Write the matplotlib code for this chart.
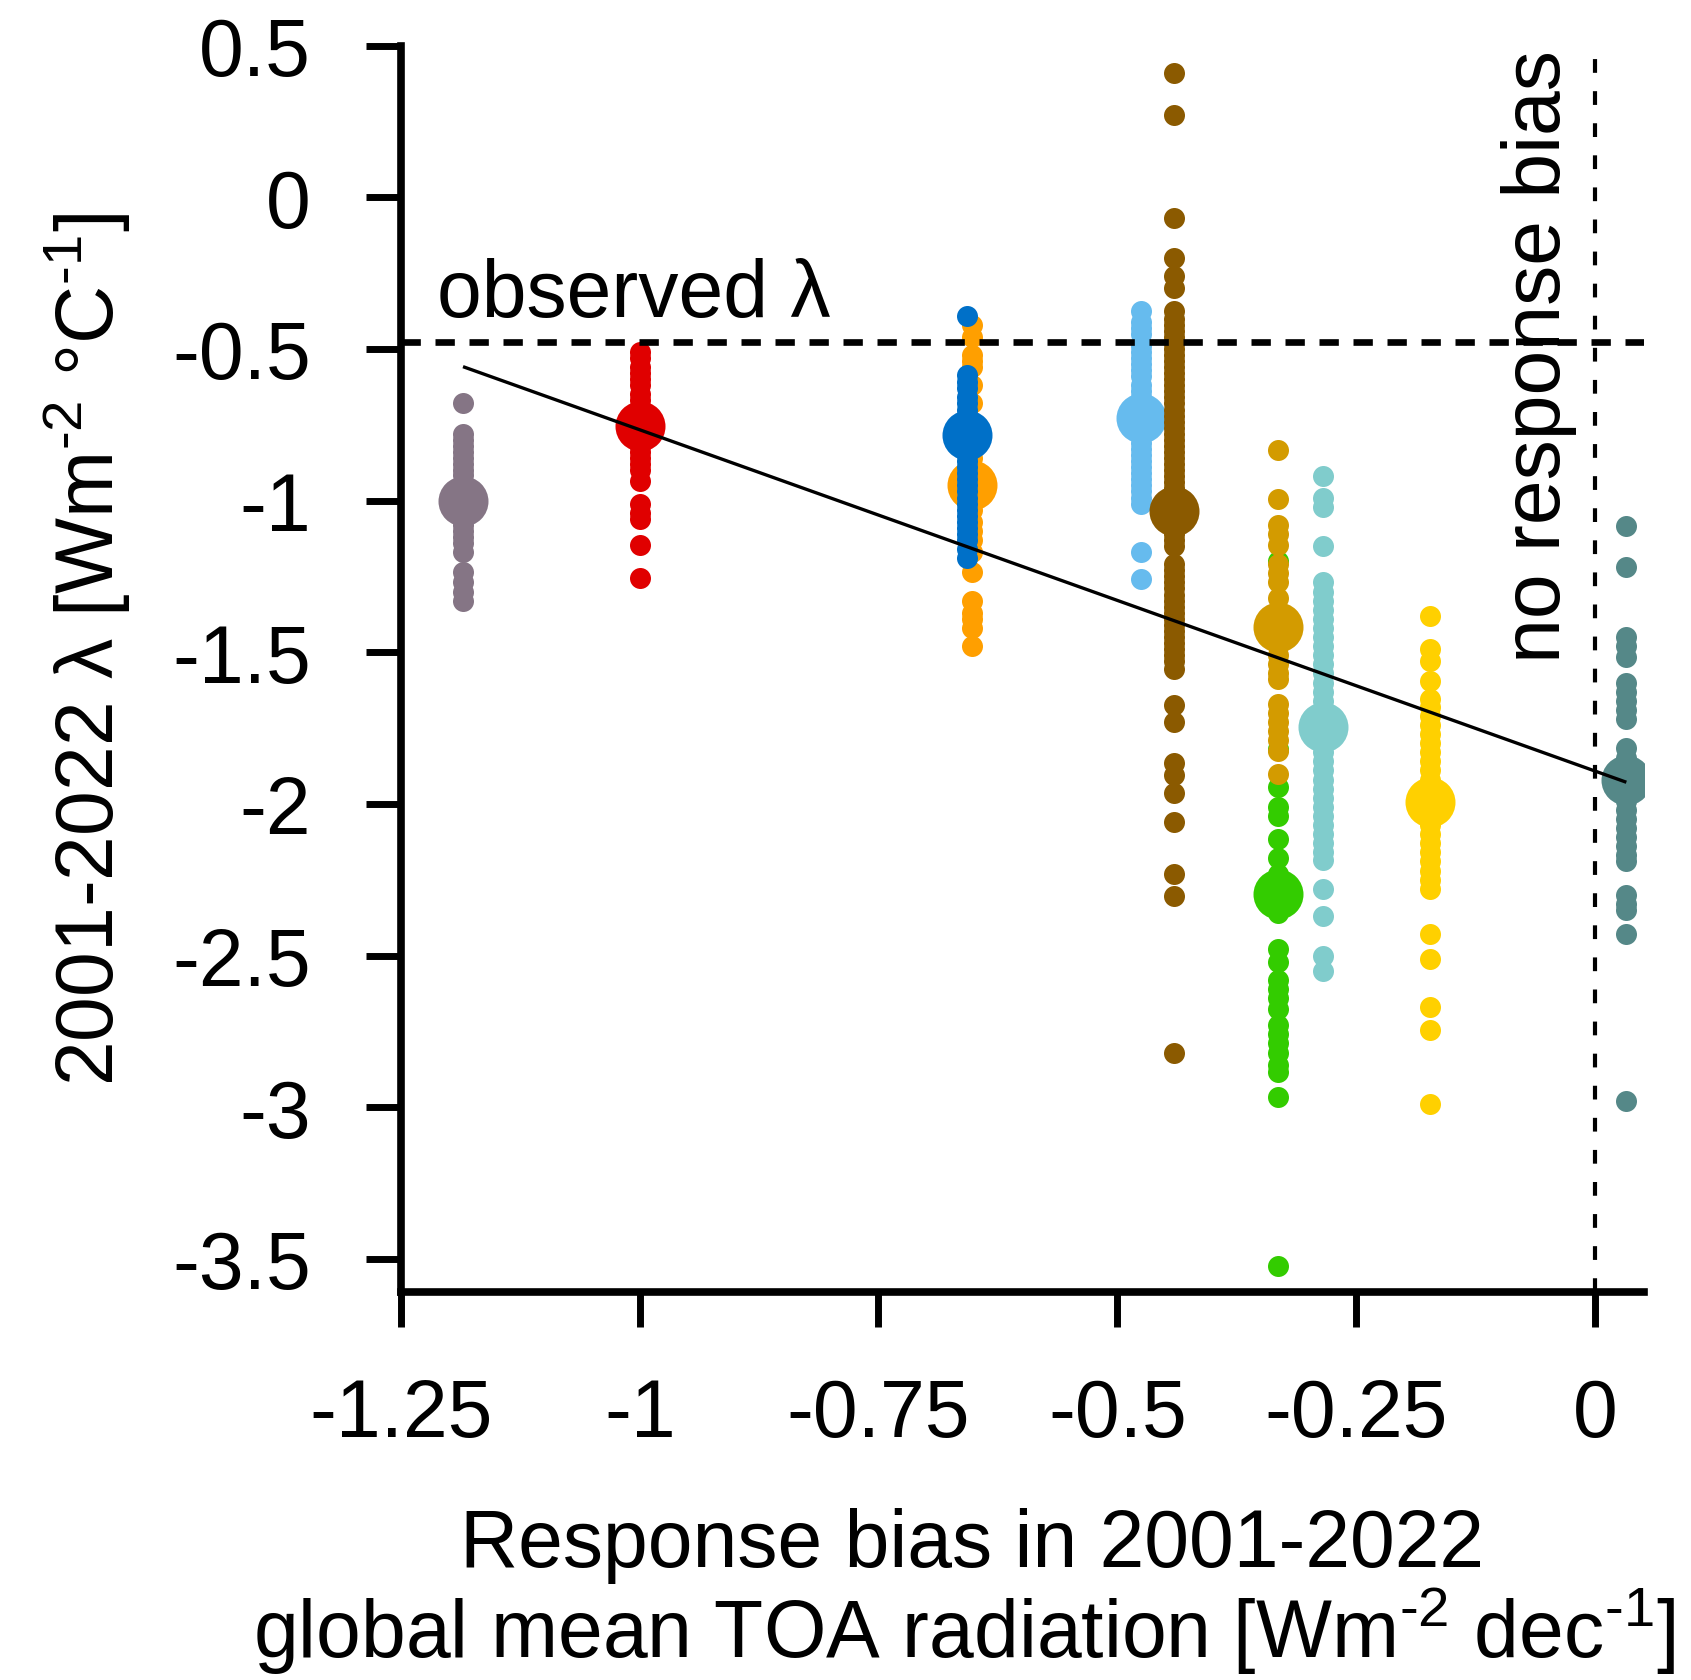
import numpy as np
import matplotlib
matplotlib.use('Agg')
import matplotlib.pyplot as plt

plt.rcParams['font.family'] = ['Liberation Sans', 'DejaVu Sans']
plt.rcParams['mathtext.fontset'] = 'custom'
plt.rcParams['mathtext.rm'] = 'Liberation Sans'
plt.rcParams['mathtext.it'] = 'Liberation Sans:italic'
plt.rcParams['mathtext.bf'] = 'Liberation Sans:bold'
plt.rcParams['mathtext.default'] = 'regular'

# ---------------- data ----------------
group_names = ['grey', 'red', 'orange', 'blue', 'lightblue', 'brown',
               'green', 'gold', 'teal', 'yellow', 'darkteal']
group_x = [-1.185, -1.0, -0.652, -0.657, -0.475, -0.441,
           -0.332, -0.332, -0.285, -0.173, 0.033]
group_mean = [-1.00, -0.755, -0.948, -0.783, -0.728, -1.035,
              -2.297, -1.418, -1.745, -1.993, -1.92]
group_colors = ['#857585', '#E00000', '#FF9F00', '#0070C8', '#66BBEE', '#8B5A00',
                '#33CC00', '#D39B00', '#80CCCC', '#FFD000', '#558888']

grey_vals = [-0.68, -0.78, -0.80, -0.82, -0.84, -0.86, -0.88, -0.90, -0.915, -0.95,
             -0.98, -1.01, -1.04, -1.06, -1.08, -1.10, -1.12, -1.14, -1.17, -1.235,
             -1.27, -1.30, -1.33]
red_vals = [-0.51, -0.53, -0.56, -0.58, -0.60, -0.62, -0.65, -0.67, -0.69, -0.71,
            -0.73, -0.76, -0.78, -0.80, -0.82, -0.84, -0.86, -0.88, -0.90, -0.935,
            -1.01, -1.04, -1.06, -1.145, -1.255]
orange_vals = [-0.42, -0.46, -0.52, -0.54, -0.56, -0.62, -0.68, -0.75, -0.80, -0.86,
               -0.92, -0.98, -1.03, -1.07, -1.10, -1.13, -1.17, -1.235, -1.33, -1.37,
               -1.39, -1.42, -1.48]
blue_vals = [-0.39, -0.585, -0.61, -0.63, -0.66, -0.68, -0.70, -0.72, -0.74, -0.82,
             -0.85, -0.87, -0.89, -0.91, -0.93, -0.95, -0.97, -0.99, -1.01, -1.03,
             -1.05, -1.07, -1.09, -1.11, -1.13, -1.16, -1.19]
lightblue_vals = [-0.375, -0.41, -0.43, -0.45, -0.49, -0.51, -0.53, -0.55, -0.57, -0.59,
                  -0.62, -0.64, -0.66, -0.68, -0.77, -0.79, -0.81, -0.83, -0.85, -0.87,
                  -0.89, -0.91, -0.93, -0.95, -0.97, -0.99, -1.01, -1.17, -1.26]
brown_vals = [0.41, 0.27, -0.07, -0.20, -0.26, -0.30, -0.375, -0.40, -0.42, -0.44,
              -0.46, -0.48, -0.50, -0.52, -0.54, -0.56, -0.58, -0.60, -0.62, -0.64,
              -0.66, -0.68, -0.70, -0.72, -0.74, -0.76, -0.78, -0.80, -0.82, -0.84,
              -0.86, -0.88, -0.90, -0.92, -0.94, -0.96, -0.98, -1.00, -1.07, -1.09,
              -1.11, -1.13, -1.15, -1.21, -1.23, -1.25, -1.27, -1.29, -1.31, -1.33,
              -1.35, -1.37, -1.39, -1.41, -1.43, -1.45, -1.47, -1.49, -1.51, -1.53,
              -1.555, -1.675, -1.73, -1.865, -1.905, -1.965, -2.06, -2.23, -2.305, -2.82]
green_vals = [-1.20, -1.47, -1.82, -1.945, -2.01, -2.04, -2.115, -2.18, -2.23, -2.27,
              -2.32, -2.36, -2.48, -2.52, -2.58, -2.61, -2.64, -2.675, -2.73, -2.76,
              -2.79, -2.82, -2.86, -2.885, -2.965, -3.525]
gold_vals = [-0.835, -0.995, -1.08, -1.11, -1.145, -1.21, -1.24, -1.27, -1.32, -1.36,
             -1.39, -1.45, -1.48, -1.51, -1.54, -1.57, -1.59, -1.67, -1.70, -1.73,
             -1.76, -1.79, -1.825, -1.90]
teal_vals = [-0.92, -0.99, -1.02, -1.15, -1.27, -1.30, -1.33, -1.36, -1.39, -1.42,
             -1.45, -1.48, -1.51, -1.54, -1.57, -1.60, -1.63, -1.66, -1.69, -1.80,
             -1.83, -1.86, -1.89, -1.92, -1.95, -1.98, -2.01, -2.04, -2.07, -2.10,
             -2.13, -2.16, -2.185, -2.28, -2.37, -2.50, -2.55]
yellow_vals = [-1.38, -1.49, -1.53, -1.595, -1.655, -1.68, -1.71, -1.74, -1.77, -1.80,
               -1.83, -1.86, -1.89, -1.92, -1.95, -2.04, -2.07, -2.10, -2.13, -2.16,
               -2.19, -2.22, -2.25, -2.28, -2.43, -2.51, -2.67, -2.745, -2.99]
darkteal_vals = [-1.085, -1.22, -1.45, -1.48, -1.515, -1.60, -1.63, -1.66, -1.69, -1.72,
                 -1.815, -1.85, -1.88, -1.96, -1.99, -2.02, -2.05, -2.08, -2.11, -2.14,
                 -2.17, -2.19, -2.30, -2.33, -2.35, -2.43, -2.98]

member_vals = [grey_vals, red_vals, orange_vals, blue_vals, lightblue_vals, brown_vals,
               green_vals, gold_vals, teal_vals, yellow_vals, darkteal_vals]

observed_lambda = -0.476

x_ticks = [-1.25, -1.0, -0.75, -0.5, -0.25, 0.0]
x_ticklabels = ['-1.25', '-1', '-0.75', '-0.5', '-0.25', '0']
y_ticks = [0.5, 0.0, -0.5, -1.0, -1.5, -2.0, -2.5, -3.0, -3.5]
y_ticklabels = ['0.5', '0', '-0.5', '-1', '-1.5', '-2', '-2.5', '-3', '-3.5']

# ---------------- figure ----------------
W, H = 1691, 1681
fig = plt.figure(figsize=(W / 100, H / 100), dpi=100)
ax = fig.add_axes([0.2371, 0.2307, 0.7354, 0.7416])
ax.set_xlim(-1.25, 0.052)
ax.set_ylim(-3.61, 0.5)

FS = 58
small_s = (21 * 0.72) ** 2
big_s = (50 * 0.72) ** 2

for gx, gm, col, vals in zip(group_x, group_mean, group_colors, member_vals):
    ax.scatter(np.full(len(vals), gx), vals, s=small_s, color=col,
               linewidths=0, zorder=2)
    ax.scatter([gx], [gm], s=big_s, color=col, linewidths=0, zorder=2)

# regression through group means
slope, intercept = np.polyfit(group_x, group_mean, 1)
xs = np.array([min(group_x), max(group_x)])
ax.plot(xs, intercept + slope * xs, color='black', lw=2.4, zorder=4,
        solid_capstyle='butt')

# reference lines
ax.axhline(observed_lambda, color='black', lw=4.8,
           linestyle=(0, (2.9, 2.2)), zorder=5)
ax.axvline(0.0, color='black', lw=3.0,
           linestyle=(0, (3.3, 4.4)), zorder=5)

ax.text(-1.212, -0.391, 'observed λ', ha='left', va='baseline', fontsize=FS, zorder=3)
fig.text(1560 / W, 1 - 50 / H, 'no response bias', rotation=90,
         rotation_mode='anchor', ha='right', va='baseline', fontsize=FS, zorder=3)

# axes styling
for side in ['top', 'right']:
    ax.spines[side].set_visible(False)
for side in ['left', 'bottom']:
    ax.spines[side].set_linewidth(5.5)
ax.set_xticks(x_ticks)
ax.set_xticklabels(x_ticklabels)
ax.set_yticks(y_ticks)
ax.set_yticklabels(y_ticklabels)
ax.tick_params(direction='out', length=25, width=5.0, labelsize=FS)
ax.tick_params(axis='x', pad=36)
ax.tick_params(axis='y', pad=40)

fig.text(87 / W, 1 - 650 / H,
         r'2001-2022 λ [Wm$^{\text{-2}}$ °C$^{\text{-1}}$]',
         rotation=90, ha='center', va='center', fontsize=FS)
fig.text(972 / W, 1 - 1567 / H, 'Response bias in 2001-2022',
         ha='center', va='baseline', fontsize=FS)
fig.text(964 / W, 1 - 1657 / H,
         r'global mean TOA radiation [Wm$^{\text{-2}}$ dec$^{\text{-1}}$]',
         ha='center', va='baseline', fontsize=FS)

fig.savefig('out.png', dpi=100)
